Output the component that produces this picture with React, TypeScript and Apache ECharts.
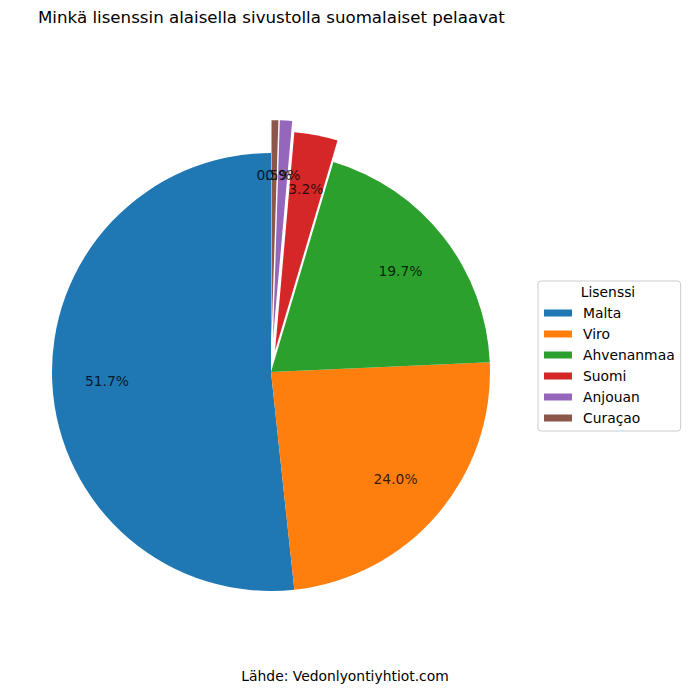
import React, { useEffect, useRef } from "react";
import * as echarts from "echarts";

const categories = ["Malta", "Viro", "Ahvenanmaa", "Suomi", "Anjouan", "Curaçao"];
const shares = [51.7, 24.0, 19.7, 3.2, 0.9, 0.5];
const colors = ["#1f77b4", "#ff7f0e", "#2ca02c", "#d62728", "#9467bd", "#8c564b"];
const explode = [0, 0, 0, 0.1, 0.15, 0.15];
const titleText = "Minkä lisenssin alaisella sivustolla suomalaiset pelaavat";
const legendTitle = "Lisenssi";
const sourceText = "Lähde: Vedonlyontiyhtiot.com";

const FONT = "DejaVu Sans";
const PCT_DISTANCE = 0.75;

export default function App() {
  const ref = useRef<HTMLDivElement>(null);
  useEffect(() => {
    if (!ref.current) return;
    const chart = echarts.init(ref.current, null, { renderer: "svg" });
    const center = [271, 372];
    const R = 219;
    const total = shares.reduce((a, b) => a + b, 0);
    let acc = 0;
    const labelPoints = shares.map((v, i) => {
      const mid = acc + v / 2;
      acc += v;
      return { value: [PCT_DISTANCE + explode[i], (mid / total) * 100], pct: v };
    });
    const offsets = Array.from(new Set(explode));
    const pieSeries = offsets.map((off) => ({
      type: "pie",
      center,
      radius: [0, R],
      startAngle: 90,
      clockwise: false,
      selectedMode: "multiple",
      selectedOffset: off * R,
      silent: true,
      label: { show: false },
      labelLine: { show: false },
      emphasis: { disabled: true },
      data: categories.map((name, i) => ({
        name,
        value: shares[i],
        selected: off > 0 && explode[i] === off,
        itemStyle: { color: explode[i] === off ? colors[i] : "rgba(0,0,0,0)" },
      })),
    }));
    chart.setOption({
      animation: false,
      backgroundColor: "#ffffff",
      title: {
        text: titleText,
        left: 33,
        top: 4,
        textStyle: { fontFamily: FONT, fontSize: 16.67, fontWeight: "normal", color: "#000" },
      },
      legend: {
        orient: "vertical",
        left: 538,
        top: 281,
        data: categories.map((name, i) => ({ name, itemStyle: { color: colors[i] } })),
        icon: "rect",
        itemWidth: 28,
        itemHeight: 7,
        itemGap: 7,
        padding: [25, 6, 6, 6],
        backgroundColor: "#ffffff",
        borderColor: "#cccccc",
        borderWidth: 1,
        borderRadius: 3,
        selectedMode: false,
        textStyle: {
          fontFamily: FONT,
          fontSize: 13.89,
          lineHeight: 14,
          color: "#000",
          padding: [0, 0, 0, 6],
        },
      },
      polar: { center, radius: R },
      angleAxis: {
        type: "value",
        min: 0,
        max: 100,
        startAngle: 90,
        clockwise: false,
        show: false,
      },
      radiusAxis: { type: "value", min: 0, max: 1, show: false },
      graphic: [
        {
          type: "text",
          x: 608,
          y: 292,
          z: 100,
          style: {
            text: legendTitle,
            fontFamily: FONT,
            fontSize: 13.89,
            fill: "#000",
            textAlign: "center",
            textVerticalAlign: "middle",
          },
        },
        {
          type: "text",
          x: 345,
          y: 676,
          style: {
            text: sourceText,
            fontFamily: FONT,
            fontSize: 13.89,
            fill: "#000",
            textAlign: "center",
            textVerticalAlign: "middle",
          },
        },
      ],
      series: [
        ...pieSeries,
        {
          type: "scatter",
          coordinateSystem: "polar",
          symbolSize: 0,
          silent: true,
          z: 5,
          label: {
            show: true,
            position: "inside",
            fontFamily: FONT,
            fontSize: 13.89,
            color: "#000",
            formatter: (p: any) => p.data.pct.toFixed(1) + "%",
          },
          data: labelPoints,
        },
      ],
    });
    return () => chart.dispose();
  }, []);
  return (
    <div
      ref={ref}
      style={{ position: "absolute", left: 0, top: 0, width: 690, height: 694 }}
    />
  );
}
